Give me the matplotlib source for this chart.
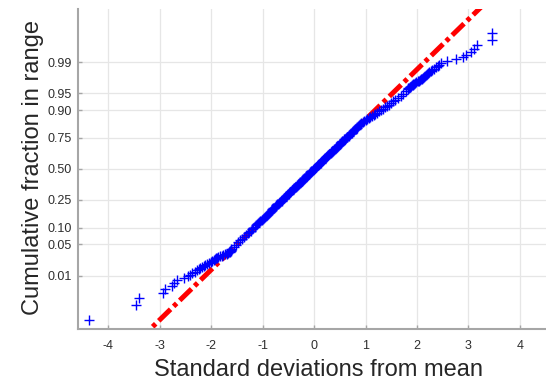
import numpy as np
import matplotlib
matplotlib.use("Agg")
import matplotlib.pyplot as plt
from statistics import NormalDist

n_obs = 1000

# ranks 1..39
low_x = [-4.37, -3.46, -3.40, -2.93, -2.89, -2.76, -2.72, -2.67, -2.52, -2.44,
         -2.40, -2.37, -2.32, -2.28, -2.24, -2.21, -2.18, -2.14, -2.11, -2.08,
         -2.05, -2.01, -1.98, -1.95, -1.92, -1.90, -1.88, -1.86, -1.83, -1.79,
         -1.76, -1.73, -1.70, -1.68, -1.66, -1.64, -1.63, -1.62, -1.61]

# ranks 40, 45, ..., 960
mid_x = [-1.61, -1.56, -1.51, -1.47, -1.43, -1.39, -1.36, -1.32, -1.29, -1.26,
         -1.23, -1.20, -1.18,
         -1.15, -1.13, -1.10, -1.08, -1.06, -1.04, -1.01, -0.99, -0.97, -0.95,
         -0.93, -0.91, -0.89, -0.88, -0.86, -0.84, -0.82, -0.81, -0.79, -0.77,
         -0.76, -0.74, -0.73, -0.71, -0.70, -0.68, -0.66, -0.65, -0.63, -0.62,
         -0.60, -0.59, -0.58, -0.56, -0.55, -0.54, -0.52, -0.51, -0.49, -0.48,
         -0.47, -0.46, -0.44, -0.43, -0.42, -0.41, -0.39, -0.38, -0.37, -0.36,
         -0.34, -0.33, -0.32, -0.31, -0.29, -0.28, -0.27, -0.26, -0.24, -0.23,
         -0.22, -0.21, -0.20, -0.19, -0.17, -0.16, -0.15, -0.14, -0.13, -0.12,
         -0.10, -0.09, -0.08, -0.07, -0.06, -0.05, -0.03, -0.02, -0.01, 0.00,
         0.01, 0.02, 0.03, 0.04, 0.06, 0.07, 0.08, 0.09, 0.10, 0.11,
         0.13, 0.14, 0.15, 0.16, 0.17, 0.18, 0.20, 0.21, 0.22, 0.23,
         0.24, 0.25, 0.27, 0.28, 0.29, 0.30, 0.32, 0.33, 0.34, 0.35,
         0.37, 0.38, 0.39, 0.40, 0.42, 0.43, 0.44, 0.45, 0.47, 0.48,
         0.50, 0.51, 0.52, 0.53, 0.55, 0.56, 0.58, 0.59, 0.61, 0.62,
         0.64, 0.65, 0.67, 0.68, 0.70, 0.71, 0.73, 0.74, 0.76, 0.77,
         0.79, 0.81, 0.83, 0.84, 0.86, 0.88, 0.90, 0.92, 0.95, 0.98,
         1.00, 1.03, 1.06, 1.09, 1.12, 1.16, 1.19, 1.23, 1.26, 1.30,
         1.33, 1.37, 1.41, 1.45, 1.49, 1.53, 1.58, 1.63, 1.68, 1.73,
         1.78, 1.82]

# ranks 961..1000
high_x = [1.83, 1.84, 1.86, 1.87, 1.89, 1.90, 1.92, 1.93, 1.95, 1.97,
          1.99, 2.01, 2.03, 2.05, 2.07, 2.09, 2.11, 2.13, 2.15, 2.17,
          2.19, 2.21, 2.24, 2.27, 2.30, 2.33, 2.36, 2.40, 2.43, 2.46,
          2.58, 2.75, 2.90, 2.96, 3.04, 3.10, 3.16, 3.45, 3.45, 4.60]

# reference line (normal fit through the quartiles)
fit_mu = 0.016
fit_sigma = 0.916

prob_ticks = [0.01, 0.05, 0.10, 0.25, 0.50, 0.75, 0.90, 0.95, 0.99]
x_ticks = [-4, -3, -2, -1, 0, 1, 2, 3, 4]

ranks = np.concatenate([np.arange(1, 40), np.arange(40, 961, 5), np.arange(961, 1001)])
data_x = np.array(low_x + mid_x + high_x)
data_p = (ranks - 0.5) / n_obs

nd = NormalDist()
_ppf = np.vectorize(nd.inv_cdf, otypes=[float])
_cdf = np.vectorize(nd.cdf, otypes=[float])


def fwd(p):
    p = np.clip(np.asarray(p, dtype=float), 1e-12, 1 - 1e-12)
    return _ppf(p)


def inv(z):
    return _cdf(np.asarray(z, dtype=float))


plt.rcParams['font.family'] = ['Liberation Sans', 'DejaVu Sans']

fig = plt.figure(figsize=(5.46, 3.81), dpi=100)
ax = fig.add_axes([78 / 546, 1 - 328.7 / 381, (551 - 78) / 546, (328.7 - 9) / 381])
ax.set_yscale('function', functions=(fwd, inv))

line_x = np.array([-4.6, 4.6])
line_p = [NormalDist(fit_mu, fit_sigma).cdf(v) for v in line_x]
ax.plot(line_x, line_p, color='red', lw=3.6, linestyle=(0, (3.3, 0.85, 0.85, 0.85)),
        dash_capstyle='butt', zorder=2)
ax.plot(data_x, data_p, '+', color='blue', ms=7, mew=1.0, zorder=3)

ax.set_xlim(-4.585, 4.603)
ax.set_ylim(inv(-3.483), inv(3.483))
ax.set_xticks(x_ticks)
ax.set_xticklabels([str(v) for v in x_ticks])
ax.set_yticks(prob_ticks)
ax.set_yticklabels(['%.2f' % v for v in prob_ticks])
ax.minorticks_off()

ax.grid(True, color='#e6e6e6', lw=0.9)
ax.set_axisbelow(True)
for s in ['top', 'right']:
    ax.spines[s].set_visible(False)
for s in ['left', 'bottom']:
    ax.spines[s].set_color('#a6a6a6')
    ax.spines[s].set_linewidth(1.5)

ax.tick_params(axis='both', direction='in', length=3, width=1, color='#a6a6a6',
               labelsize=9, labelcolor='#2e2e2e')
ax.tick_params(axis='y', pad=4.3)
ax.tick_params(axis='x', pad=8)

ax.set_xlabel('Standard deviations from mean', fontsize=17, color='#262626')
ax.set_ylabel('Cumulative fraction in range', fontsize=17, color='#262626')
ax.xaxis.set_label_coords(0.509, -0.0963)
ax.yaxis.set_label_coords(-0.072, 0.504)

fig.savefig('out.png', dpi=100)
